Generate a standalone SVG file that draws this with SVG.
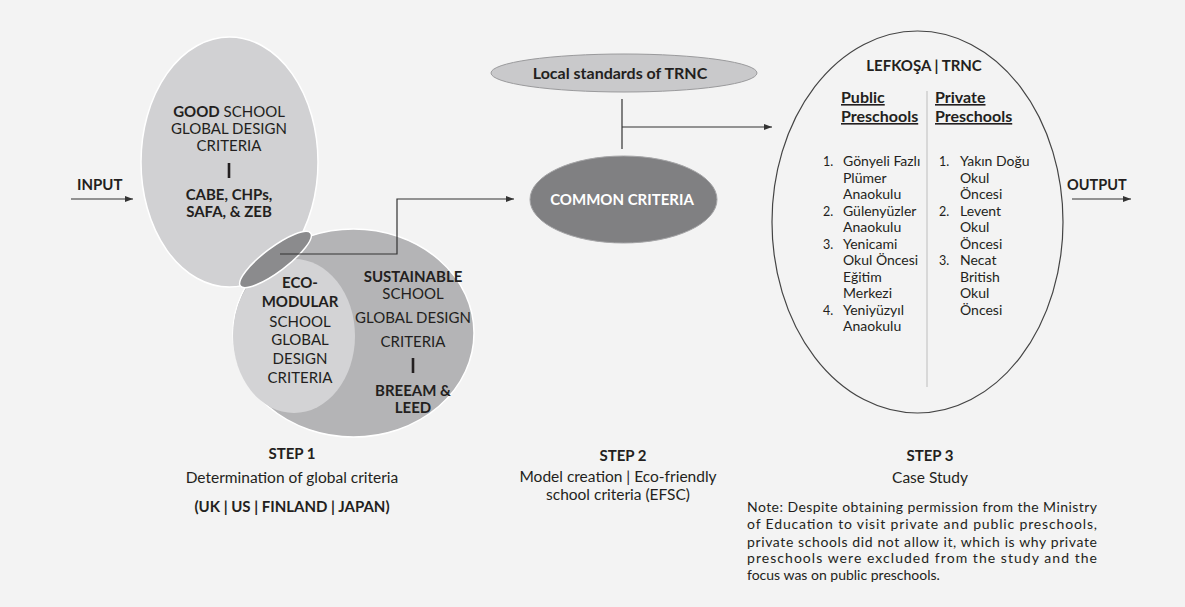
<svg xmlns="http://www.w3.org/2000/svg" width="1185" height="607" viewBox="0 0 1185 607">
<style>
.t{font-family:Lato,"Open Sans","Liberation Sans",sans-serif;fill:#231f20;font-size:15px}
.c{text-anchor:middle}
.b{font-weight:700}
.d{font-size:15.5px}
.li{font-size:14px}
.hd{font-size:16px}
.nu{font-size:12.5px}
.nt{font-size:14px}
.conn{fill:none;stroke:#333;stroke-width:1.2}
.bar{stroke:#231f20;stroke-width:2.6}
</style>
<defs>
<marker id="ah" markerUnits="userSpaceOnUse" markerWidth="9" markerHeight="7" refX="8" refY="3" orient="auto">
<path d="M0,0 L8,3 L0,6 z" fill="#333"/>
</marker>
</defs>
<rect width="1185" height="607" fill="#f3f3f3"/>

<g id="good-school">
<ellipse cx="229.5" cy="162" rx="88.5" ry="125" fill="#d1d1d3" stroke="#fff" stroke-width="1.5"/>
</g>
<g id="sustainable">
<ellipse cx="353.5" cy="333" rx="120.5" ry="104" fill="#b4b4b6" stroke="#fff" stroke-width="1.5"/>
</g>
<g id="eco-modular">
<ellipse cx="294" cy="336" rx="61" ry="77" fill="#d3d3d5"/>
</g>
<g id="overlap">
<ellipse cx="275.5" cy="259.5" rx="44" ry="12" transform="rotate(-37 275.5 259.5)" fill="#8b8b8d" stroke="#fff" stroke-width="1.5"/>
</g>

<g id="good-school-text">
<text class="t c" x="229" y="117"><tspan class="b">GOOD</tspan> SCHOOL</text>
<text class="t c" x="229" y="134">GLOBAL DESIGN</text>
<text class="t c" x="229" y="151">CRITERIA</text>
<line class="bar" x1="229" y1="163" x2="229" y2="178"/>
<text class="t c b" x="229" y="200">CABE, CHPs,</text>
<text class="t c b" x="229" y="217">SAFA, &amp; ZEB</text>
</g>

<g id="eco-modular-text">
<text class="t c b" x="300" y="288">ECO-</text>
<text class="t c b" x="300" y="307">MODULAR</text>
<text class="t c" x="300" y="327">SCHOOL</text>
<text class="t c" x="300" y="345">GLOBAL</text>
<text class="t c" x="300" y="364">DESIGN</text>
<text class="t c" x="300" y="383">CRITERIA</text>
</g>

<g id="sustainable-text">
<text class="t c b" x="413" y="282">SUSTAINABLE</text>
<text class="t c" x="413" y="299">SCHOOL</text>
<text class="t c" x="413" y="323">GLOBAL DESIGN</text>
<text class="t c" x="413" y="347">CRITERIA</text>
<line class="bar" x1="413" y1="358" x2="413" y2="373"/>
<text class="t c b" x="413" y="396">BREEAM &amp;</text>
<text class="t c b" x="413" y="413">LEED</text>
</g>

<g id="input">
<text class="t b" x="77" y="190">INPUT</text>
</g>

<g id="local-standards">
<ellipse cx="624" cy="73" rx="133" ry="19" fill="#c9c9cb" stroke="#9a9a9c" stroke-width="1"/>
<text class="t c b hd" x="620" y="78.5">Local standards of TRNC</text>
</g>

<g id="common-criteria">
<ellipse cx="623.5" cy="199.5" rx="93.5" ry="43.5" fill="#808082" stroke="#a5a5a7" stroke-width="1"/>
<text class="t c b" x="622" y="205" style="fill:#fff">COMMON CRITERIA</text>
</g>

<g id="case-study">
<ellipse cx="917.5" cy="222" rx="145.5" ry="191" fill="none" stroke="#444" stroke-width="1.2"/>
<text class="t c b" x="924" y="71">LEFKOŞA | TRNC</text>
<line x1="927" y1="91" x2="927" y2="387" stroke="#bdbdbd" stroke-width="1"/>
<text class="t b hd" x="841" y="103" text-decoration="underline">Public</text>
<text class="t b hd" x="841" y="122" text-decoration="underline">Preschools</text>
<text class="t b hd" x="935" y="103" text-decoration="underline">Private</text>
<text class="t b hd" x="935" y="122" text-decoration="underline">Preschools</text>

<text class="t nu" x="823" y="166">1.</text>
<text class="t li" x="843" y="166">Gönyeli Fazlı</text>
<text class="t li" x="843" y="182.5">Plümer</text>
<text class="t li" x="843" y="199">Anaokulu</text>
<text class="t nu" x="823" y="215.5">2.</text>
<text class="t li" x="843" y="215.5">Gülenyüzler</text>
<text class="t li" x="843" y="232">Anaokulu</text>
<text class="t nu" x="823" y="248.5">3.</text>
<text class="t li" x="843" y="248.5">Yenicami</text>
<text class="t li" x="843" y="265">Okul Öncesi</text>
<text class="t li" x="843" y="281.5">Eğitim</text>
<text class="t li" x="843" y="298">Merkezi</text>
<text class="t nu" x="823" y="314.5">4.</text>
<text class="t li" x="843" y="314.5">Yeniyüzyıl</text>
<text class="t li" x="843" y="331">Anaokulu</text>

<text class="t nu" x="939" y="166">1.</text>
<text class="t li" x="960" y="166">Yakın Doğu</text>
<text class="t li" x="960" y="182.5">Okul</text>
<text class="t li" x="960" y="199">Öncesi</text>
<text class="t nu" x="939" y="215.5">2.</text>
<text class="t li" x="960" y="215.5">Levent</text>
<text class="t li" x="960" y="232">Okul</text>
<text class="t li" x="960" y="248.5">Öncesi</text>
<text class="t nu" x="939" y="265">3.</text>
<text class="t li" x="960" y="265">Necat</text>
<text class="t li" x="960" y="281.5">British</text>
<text class="t li" x="960" y="298">Okul</text>
<text class="t li" x="960" y="314.5">Öncesi</text>
</g>

<g id="output">
<text class="t b" x="1067" y="190" style="font-size:14.5px">OUTPUT</text>
</g>

<g id="step1">
<text class="t c b" x="292" y="459">STEP 1</text>
<text class="t c d" x="292" y="483">Determination of global criteria</text>
<text class="t c b" x="292" y="512">(UK | US | FINLAND | JAPAN)</text>
</g>
<g id="step2">
<text class="t c b" x="623" y="461">STEP 2</text>
<text class="t c d" x="618" y="482">Model creation | Eco-friendly</text>
<text class="t c d" x="618" y="500">school criteria (EFSC)</text>
</g>
<g id="step3">
<text class="t c b" x="930" y="461">STEP 3</text>
<text class="t c d" x="930" y="483">Case Study</text>
<text class="t nt" x="747" y="512" textLength="350" lengthAdjust="spacing">Note: Despite obtaining permission from the Ministry</text>
<text class="t nt" x="747" y="529" textLength="350" lengthAdjust="spacing">of Education to visit private and public preschools,</text>
<text class="t nt" x="747" y="547" textLength="350" lengthAdjust="spacing">private schools did not allow it, which is why private</text>
<text class="t nt" x="747" y="563" textLength="350" lengthAdjust="spacing">preschools were excluded from the study and the</text>
<text class="t nt" x="747" y="580">focus was on public preschools.</text>
</g>

<g id="connectors">
<line class="conn" x1="71" y1="199" x2="133" y2="199" marker-end="url(#ah)"/>
<polyline class="conn" points="280,254 397,254 397,199 514,199" marker-end="url(#ah)"/>
<line class="conn" x1="622" y1="99" x2="622" y2="149"/>
<line class="conn" x1="622" y1="127" x2="772" y2="127" marker-end="url(#ah)"/>
<line class="conn" x1="1072" y1="199" x2="1131" y2="199" marker-end="url(#ah)"/>
</g>
</svg>
